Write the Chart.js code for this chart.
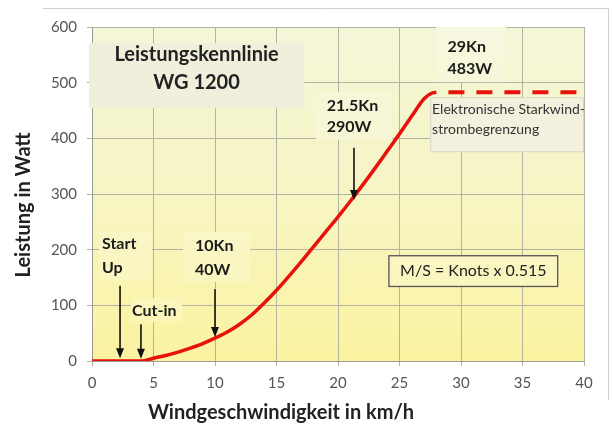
<!DOCTYPE html>
<html>
<head>
<meta charset="utf-8">
<script src="https://cdn.jsdelivr.net/npm/chart.js@4"></script>
<style>
  html, body { margin: 0; padding: 0; background: #fff; }
  #wrap { width: 612px; height: 432px; }
</style>
</head>
<body>
<div id="wrap"><canvas id="power-chart" width="612" height="432"></canvas></div>
<script>
// power curve (km/h -> W)
const windSpeed = [0, 2, 4, 5, 6, 7, 8, 9, 10, 11, 12, 13, 14, 15, 16, 17, 18, 19, 20, 21, 22, 23, 24, 25, 26, 27, 27.6, 28];
const power = [0, 0, 0, 5, 10, 16, 23, 31, 41, 52, 66, 83, 104, 127, 152, 178, 205, 232, 259, 287, 316, 346, 377, 408, 440, 471, 481, 483];
// current limiter, flat part
const limitSpeed = [28, 40];
const limitPower = [483, 483];

const xTicks = [0, 5, 10, 15, 20, 25, 30, 35, 40];
const yTicks = [0, 100, 200, 300, 400, 500, 600];

// annotation boxes, arrows and texts in data units
const boxes = [
    { x0: -0.24, x1: 17.24, y0: 571, y1: 454, fill: '#f0efdc' },
    { x0: 0.57, x1: 4.88, y0: 232, y1: 145 },
    { x0: 3.17, x1: 7.32, y0: 113, y1: 70 },
    { x0: 7.4, x1: 12.85, y0: 232, y1: 142 },
    { x0: 18.2, x1: 24.4, y0: 483, y1: 397 },
    { x0: 27.97, x1: 33.66, y0: 600, y1: 501 },
    { x0: 27.5, x1: 40, y0: 474, y1: 375, fill: '#f3f1dd', stroke: '#d6d6c6' },
    { x0: 24.1, x1: 37.9, y0: 190, y1: 133, stroke: '#555', lw: 1.3 }
];
const arrows = [
    { x: 2.28, from: 135, to: 5 },
    { x: 3.98, from: 66, to: 4 },
    { x: 10, from: 129, to: 43 },
    { x: 21.3, from: 383, to: 289 }
];
const notes = [
    { lines: ['Leistungskennlinie', 'WG 1200'], x: 8.5, y: [550, 501], align: 'center', font: 'bold 20px Lato', color: '#222' },
    { lines: ['Start', 'Up'], x: 0.81, y: [210, 167], align: 'left', font: 'bold 16px Lato', color: '#1a1a1a' },
    { lines: ['Cut-in'], x: 3.25, y: [90], align: 'left', font: 'bold 16px Lato', color: '#1a1a1a' },
    { lines: ['10Kn', '40W'], x: 8.37, y: [207, 163], align: 'left', font: 'bold 16px Lato', color: '#1a1a1a' },
    { lines: ['21.5Kn', '290W'], x: 19.08, y: [458, 420], align: 'left', font: 'bold 16px Lato', color: '#1a1a1a' },
    { lines: ['29Kn', '483W'], x: 28.9, y: [565, 524], align: 'left', font: 'bold 16px Lato', color: '#1a1a1a' },
    { lines: ['Elektronische Starkwind-', 'strombegrenzung'], x: 27.65, y: [451, 415], align: 'left', font: '14px Lato', color: '#333' },
    { lines: ['M/S = Knots x 0.515'], x: 31.0, y: [162], align: 'center', font: '16px Lato', color: '#222' }
];

let plotFill;

const decor = {
    id: 'decor',
    beforeDraw(chart) {
        const { ctx, chartArea: a } = chart;
        ctx.save();
        // outer frame
        ctx.strokeStyle = '#cfcfcf';
        ctx.lineWidth = 1;
        ctx.beginPath();
        ctx.moveTo(43, 8.5); ctx.lineTo(608.5, 8.5); ctx.lineTo(608.5, 400);
        ctx.stroke();
        // plot background
        plotFill = ctx.createLinearGradient(0, a.top, 0, a.bottom);
        plotFill.addColorStop(0, '#f4f6d8');
        plotFill.addColorStop(0.5, '#f7f5c4');
        plotFill.addColorStop(1, '#fbf3a0');
        ctx.fillStyle = plotFill;
        ctx.fillRect(a.left, a.top, a.right - a.left, a.bottom - a.top);
        ctx.restore();
    },
    beforeDatasetsDraw(chart) {
        const { ctx, scales: { x, y } } = chart;
        ctx.save();
        boxes.forEach(b => {
            const l = x.getPixelForValue(b.x0), r = x.getPixelForValue(b.x1);
            const t = y.getPixelForValue(b.y0), bt = y.getPixelForValue(b.y1);
            ctx.fillStyle = b.fill || plotFill;
            ctx.fillRect(l, t, r - l, bt - t);
            if (!b.fill) {
                ctx.fillStyle = 'rgba(255,255,255,0.18)';
                ctx.fillRect(l, t, r - l, bt - t);
            }
            if (b.stroke) {
                ctx.strokeStyle = b.stroke;
                ctx.lineWidth = b.lw || 1;
                ctx.strokeRect(l + 0.5, t + 0.5, r - l - 1, bt - t - 1);
            }
        });
        notes.forEach(n => {
            ctx.font = n.font;
            ctx.fillStyle = n.color;
            ctx.textAlign = n.align;
            ctx.textBaseline = 'middle';
            n.lines.forEach((s, i) => ctx.fillText(s, x.getPixelForValue(n.x), y.getPixelForValue(n.y[i])));
        });
        ctx.restore();
    },
    afterDatasetsDraw(chart) {
        const { ctx, scales: { x, y } } = chart;
        ctx.save();
        ctx.strokeStyle = '#111';
        ctx.fillStyle = '#111';
        ctx.lineWidth = 1.6;
        arrows.forEach(ar => {
            const px = x.getPixelForValue(ar.x);
            const y0 = y.getPixelForValue(ar.from), y1 = y.getPixelForValue(ar.to);
            ctx.beginPath();
            ctx.moveTo(px, y0); ctx.lineTo(px, y1 - 8);
            ctx.stroke();
            ctx.beginPath();
            ctx.moveTo(px - 4, y1 - 10); ctx.lineTo(px + 4, y1 - 10); ctx.lineTo(px, y1);
            ctx.closePath();
            ctx.fill();
        });
        ctx.restore();
    },
    afterDraw(chart) {
        const { ctx } = chart;
        ctx.save();
        ctx.fillStyle = '#222';
        ctx.font = 'bold 20px Lato';
        ctx.textAlign = 'center';
        ctx.textBaseline = 'middle';
        ctx.fillText('Windgeschwindigkeit in km/h', 281, 413);
        ctx.translate(24, 205);
        ctx.rotate(-Math.PI / 2);
        ctx.fillText('Leistung in Watt', 0, 0);
        ctx.restore();
    }
};

const gridColor = '#b3b3a3';

new Chart(document.getElementById('power-chart'), {
    type: 'line',
    data: {
        datasets: [
            {
                data: windSpeed.map((v, i) => ({ x: v, y: power[i] })),
                borderColor: '#e8120c',
                borderWidth: 3.5,
                pointRadius: 0,
                cubicInterpolationMode: 'monotone',
                fill: false
            },
            {
                data: limitSpeed.map((v, i) => ({ x: v, y: limitPower[i] })),
                borderColor: '#e8120c',
                borderWidth: 4,
                borderDash: [16, 12],
                borderDashOffset: 16,
                pointRadius: 0,
                fill: false
            }
        ]
    },
    options: {
        responsive: false,
        animation: false,
        layout: { padding: { top: 27, right: 28, left: 0, bottom: 0 } },
        plugins: { legend: { display: false }, tooltip: { enabled: false } },
        scales: {
            x: {
                type: 'linear',
                min: xTicks[0],
                max: xTicks[xTicks.length - 1],
                afterBuildTicks: s => { s.ticks = xTicks.map(v => ({ value: v })); },
                afterFit: s => { s.height = 71; },
                ticks: { color: '#555', font: { family: 'Lato', size: 15 }, padding: 8, maxRotation: 0 },
                grid: { color: gridColor, tickLength: 5, tickColor: gridColor },
                border: { color: '#9a9a90' }
            },
            y: {
                min: yTicks[0],
                max: yTicks[yTicks.length - 1],
                afterBuildTicks: s => { s.ticks = yTicks.map(v => ({ value: v })); },
                afterFit: s => { s.width = 92; },
                ticks: { color: '#555', font: { family: 'Lato', size: 15 }, padding: 10 },
                grid: { color: gridColor, tickLength: 5, tickColor: gridColor },
                border: { color: '#9a9a90' }
            }
        }
    },
    plugins: [decor]
});
</script>
</body>
</html>
